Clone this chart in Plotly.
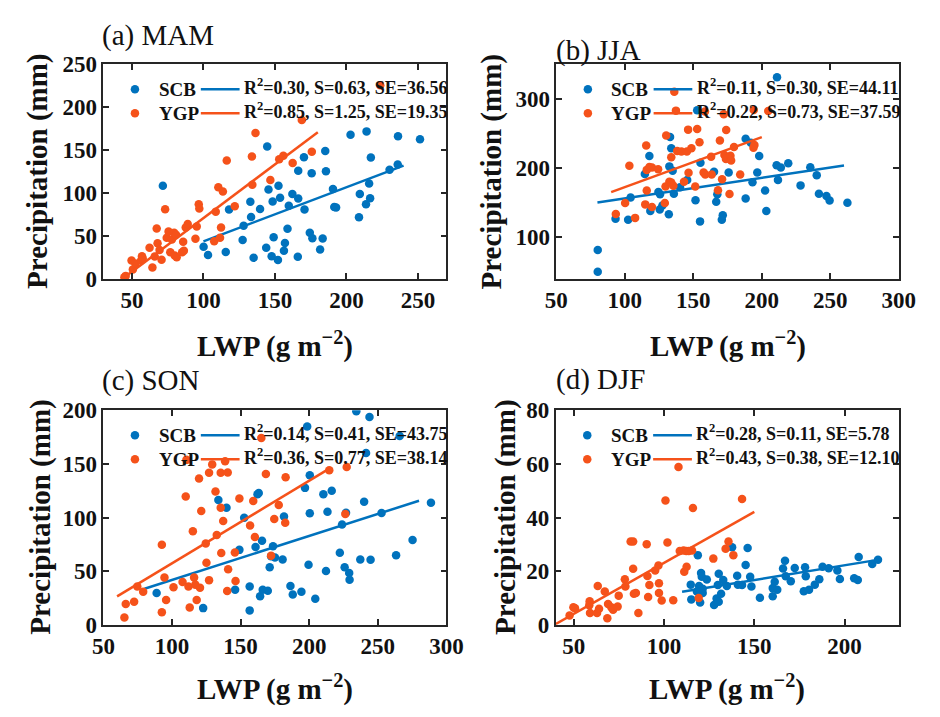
import plotly.graph_objects as go

BLUE = "#0072BD"
ORANGE = "#F5521A"
AXIS = "#262626"
SERIF = "Liberation Serif"

# ---------------- MAM ----------------
mam_scb_lwp = [71.6, 100.1, 103.2, 115.6, 117.9, 127.4, 128.1, 132.8, 133.3, 135.1, 139.6, 143.9, 144.6,
               145.5, 147.7, 148.4, 149.1, 152.1, 152.5, 153.6, 156.3, 157.0, 158.8, 159.7, 162.2, 166.0,
               166.3, 166.3, 170.3, 170.7, 174.4, 175.7, 176.2, 181.6, 183.4, 185.2, 185.7, 190.6, 191.5,
               192.8, 202.9, 208.8, 209.4, 213.7, 214.1, 215.9, 216.6, 217.1, 230.2, 235.9, 236.1, 251.5]
mam_scb_pr = [108.7, 37.5, 28.1, 31.5, 81.0, 45.4, 62.2, 90.0, 72.3, 24.7, 81.7, 36.4, 154.4,
              104.2, 26.6, 90.3, 48.7, 22.1, 108.7, 94.8, 33.0, 42.0, 58.5, 85.5, 99.0, 25.9,
              93.7, 126.0, 142.0, 81.0, 54.0, 123.3, 47.6, 34.5, 47.2, 149.2, 125.6, 105.0, 84.0,
              83.2, 168.0, 72.0, 99.0, 87.0, 172.0, 111.3, 94.0, 141.7, 127.4, 133.4, 166.4, 162.7]
mam_ygp_lwp = [44.7, 45.6, 49.7, 50.6, 52.4, 56.4, 57.0, 57.5, 62.3, 64.3, 65.9, 67.3, 67.9, 69.3, 70.7,
               73.2, 74.3, 75.6, 76.8, 77.9, 79.5, 79.9, 80.8, 81.3, 85.1, 85.8, 86.3, 87.6, 89.0, 94.4,
               95.3, 96.7, 97.1, 107.5, 108.6, 110.4, 111.6, 112.3, 113.6, 116.3, 121.9, 133.9, 134.2,
               136.4, 146.8, 153.0, 155.9, 162.4, 168.8, 175.8, 223.7]
mam_ygp_pr = [2.2, 3.7, 21.7, 11.2, 18.0, 21.7, 26.6, 24.0, 36.4, 13.5, 26.2, 58.8, 41.6, 33.7, 22.5,
              81.3, 48.0, 55.5, 31.1, 46.1, 54.0, 27.4, 51.7, 25.5, 31.1, 43.5, 33.0, 60.0, 64.1, 46.9,
              61.1, 87.0, 82.1, 43.9, 78.3, 106.8, 48.0, 60.0, 102.0, 138.0, 84.7, 142.8, 109.8,
              170.2, 115.4, 139.4, 143.6, 135.3, 185.2, 148.4, 225.6]

# ---------------- JJA ----------------
jja_scb_lwp = [80.2, 80.2, 93.2, 102.4, 104.2, 114.6, 117.9, 118.6, 124.5, 125.5, 125.7, 127.4, 132.1,
               132.5, 133.0, 133.9, 134.9, 135.8, 140.3, 145.5, 151.6, 152.8, 154.9, 155.2, 165.1, 166.7,
               167.5, 170.8, 171.5, 175.8, 188.2, 188.2, 192.0, 193.2, 196.7, 198.1, 202.4, 203.3, 210.8,
               211.1, 211.8, 213.9, 219.3, 228.3, 235.4, 240.1, 241.7, 247.2, 249.5, 262.5]
jja_scb_pr = [80.3, 48.8, 125.8, 124.4, 156.8, 191.1, 217.4, 137.1, 164.8, 139.4, 161.5, 145.1, 132.4,
              202.3, 245.0, 228.6, 195.8, 162.4, 171.8, 182.6, 153.0, 284.0, 122.1, 207.5, 194.4, 150.7,
              161.5, 124.4, 131.0, 193.4, 242.7, 155.4, 236.6, 179.3, 193.4, 217.4, 167.1, 137.1, 203.8,
              332.4, 182.6, 200.5, 207.0, 174.6, 200.9, 189.2, 162.4, 159.2, 152.6, 149.3]
jja_ygp_lwp = [93.4, 100.2, 103.3, 107.5, 114.9, 115.6, 116.0, 116.0, 117.9, 119.8, 119.8, 124.3, 129.2,
               129.7, 130.2, 132.5, 133.9, 133.9, 135.4, 136.1, 137.3, 138.2, 141.3, 143.2, 145.3, 146.2,
               146.5, 148.6, 151.4, 152.8, 154.5, 157.5, 158.5, 158.7, 163.0, 163.4, 168.0, 169.4, 171.0,
               172.2, 172.7, 173.8, 174.0, 176.4, 177.1, 177.6, 179.7, 184.2, 193.9, 194.1, 194.6, 204.7]
jja_ygp_pr = [132.9, 148.8, 203.3, 127.2, 146.9, 232.9, 197.2, 167.1, 201.4, 200.5, 143.2, 198.1, 148.8,
              172.8, 247.4, 179.8, 215.5, 178.9, 174.2, 311.3, 283.6, 224.9, 224.0, 179.8, 224.0, 255.9,
              193.0, 228.6, 172.8, 256.8, 237.6, 193.4, 282.2, 190.6, 216.4, 190.6, 167.6, 239.9, 183.6,
              278.4, 218.8, 213.1, 255.4, 162.0, 217.8, 210.8, 230.5, 190.6, 229.6, 284.5, 233.3, 283.1]

# ---------------- SON ----------------
son_scb_lwp = [88.8, 122.7, 133.8, 139.7, 146.0, 149.1, 152.6, 156.6, 156.6, 160.9, 162.3, 163.2, 164.2,
               165.6, 166.1, 169.8, 171.2, 172.2, 173.6, 175.0, 180.6, 181.6, 186.3, 188.0, 194.3, 196.9,
               198.5, 199.5, 200.4, 200.4, 204.4, 210.3, 212.2, 213.3, 216.4, 222.3, 223.9, 225.8, 226.8,
               229.1, 229.4, 234.3, 237.2, 240.0, 241.4, 243.9, 244.7, 252.7, 263.3, 265.9, 275.3, 288.7]
son_scb_pr = [29.7, 15.6, 116.3, 109.1, 32.7, 69.9, 99.8, 35.7, 13.5, 72.6, 121.7, 122.9, 26.7,
              78.3, 32.7, 31.8, 53.7, 63.9, 73.2, 62.7, 60.9, 101.0, 36.3, 28.2, 30.9, 127.7,
              185.0, 56.1, 104.0, 139.4, 24.3, 121.7, 50.1, 105.5, 125.0, 67.2, 93.6, 53.7, 104.6,
              48.3, 42.0, 199.1, 60.9, 114.8, 160.1, 193.7, 60.6, 104.3, 64.8, 176.0, 79.2, 113.9]
son_ygp_lwp = [65.3, 66.3, 72.4, 74.7, 79.0, 92.6, 92.6, 94.5, 95.7, 101.1, 107.7, 110.0, 110.5, 112.0,
               112.9, 115.2, 116.1, 117.0, 118.0, 119.7, 120.4, 121.3, 124.6, 125.1, 127.0, 127.0, 129.3,
               131.7, 132.6, 135.5, 135.5, 135.9, 137.3, 138.7, 140.2, 140.6, 140.9, 145.8, 146.3, 149.1,
               156.9, 159.2, 160.4, 165.1, 168.4, 172.2, 174.5, 177.8, 182.5, 182.8, 214.6, 226.3, 227.3]
son_ygp_pr = [6.9, 19.5, 21.6, 35.7, 30.9, 74.7, 11.7, 44.1, 23.1, 35.1, 39.9, 119.6, 153.8, 35.7,
              16.2, 87.3, 44.1, 37.5, 23.1, 136.4, 34.5, 106.1, 75.9, 57.9, 141.8, 41.7, 149.6,
              124.4, 83.7, 141.8, 109.1, 66.9, 96.9, 152.6, 31.5, 142.1, 51.9, 67.5, 40.8, 117.8,
              92.7, 115.4, 81.9, 174.2, 140.6, 64.5, 98.7, 111.8, 95.1, 137.6, 144.2, 103.4, 147.2]

# ---------------- DJF ----------------
djf_scb_lwp = [114.8, 115.1, 118.2, 118.7, 119.4, 120.0, 120.5, 120.9, 121.4, 121.4, 123.7, 127.7, 129.1,
               129.8, 130.3, 130.3, 131.6, 132.8, 134.8, 137.7, 140.5, 140.9, 143.2, 145.2, 146.3, 147.7,
               148.4, 153.1, 160.2, 160.2, 161.3, 162.7, 165.9, 167.0, 167.4, 170.2, 172.4, 177.4, 178.1,
               178.5, 180.3, 183.5, 186.0, 187.8, 191.2, 196.0, 197.4, 205.3, 207.3, 207.8, 215.3, 218.5]
djf_scb_pr = [15.0, 9.5, 12.4, 26.0, 14.5, 8.3, 19.3, 17.9, 11.9, 13.5, 16.9, 7.4, 9.8,
              14.9, 19.1, 8.6, 11.6, 16.7, 14.5, 28.9, 18.3, 15.0, 14.9, 22.3, 28.7, 17.9,
              14.3, 10.1, 10.7, 13.7, 16.1, 13.1, 21.0, 23.9, 18.1, 16.3, 21.2, 12.5, 21.5,
              18.1, 13.1, 15.0, 17.0, 21.7, 21.1, 20.3, 17.1, 17.4, 16.7, 25.3, 22.7, 24.3]
djf_ygp_lwp = [47.7, 49.8, 50.7, 58.6, 58.8, 59.0, 62.9, 63.3, 64.0, 67.2, 68.6, 69.0, 70.8, 71.8, 74.3,
               74.9, 78.3, 78.6, 81.5, 82.9, 82.9, 83.3, 84.4, 85.8, 90.4, 90.8, 91.2, 91.9, 95.1, 96.9,
               97.2, 97.2, 98.7, 100.8, 101.9, 105.1, 108.0, 108.7, 110.8, 111.2, 112.3, 112.5, 113.7,
               115.5, 116.0, 119.2, 127.3, 134.1, 135.7, 138.4, 143.2]
djf_ygp_pr = [3.5, 6.6, 6.2, 7.3, 8.8, 4.4, 4.4, 14.5, 6.0, 12.4, 2.5, 7.8, 6.6, 5.6, 6.8,
              10.9, 17.0, 14.3, 31.1, 31.1, 20.9, 11.6, 11.9, 4.4, 30.1, 18.2, 10.4, 14.9, 20.3, 22.1,
              11.9, 15.5, 9.1, 46.4, 30.7, 9.2, 58.9, 27.5, 27.7, 19.8, 27.5, 21.7, 27.5,
              27.7, 43.6, 10.0, 24.7, 28.4, 31.1, 26.0, 46.9]

# Regression statistics per season: [SCB, YGP]
seasons = ["(a) MAM", "(b) JJA", "(c) SON", "(d) DJF"]
r2 = [[0.30, 0.85], [0.11, 0.22], [0.14, 0.36], [0.28, 0.43]]
slope = [[0.63, 1.25], [0.30, 0.73], [0.41, 0.77], [0.11, 0.38]]
se = [[36.56, 19.35], [44.11, 37.59], [43.75, 38.14], [5.78, 12.10]]
intercept = [[-19.1, -54.0], [125.7, 99.0], [0.9, -19.6], [0.22, -14.9]]
fit_span = [[(100, 240), (45, 180)], [(80, 260), (90, 200)],
            [(80, 280), (60, 214)], [(110, 220), (40, 150)]]

points = [
    [(mam_scb_lwp, mam_scb_pr), (mam_ygp_lwp, mam_ygp_pr)],
    [(jja_scb_lwp, jja_scb_pr), (jja_ygp_lwp, jja_ygp_pr)],
    [(son_scb_lwp, son_scb_pr), (son_ygp_lwp, son_ygp_pr)],
    [(djf_scb_lwp, djf_scb_pr), (djf_ygp_lwp, djf_ygp_pr)],
]
regions = ["SCB", "YGP"]
colors = [BLUE, ORANGE]

x_ranges = [[30, 270], [50, 300], [50, 300], [40, 230]]
y_ranges = [[0, 250], [38, 351], [0, 200], [0, 80]]
x_ticks = [[50, 100, 150, 200, 250], [50, 100, 150, 200, 250, 300],
           [50, 100, 150, 200, 250, 300], [50, 100, 150, 200]]
y_ticks = [[0, 50, 100, 150, 200, 250], [100, 200, 300],
           [0, 50, 100, 150, 200], [0, 20, 40, 60, 80]]

W, H = 940, 717
# panel boxes in pixels: left, right, top, bottom
boxes = [(94.3, 448.3, 54.3, 276.7), (561.7, 915.0, 54.3, 276.7),
         (94.3, 448.3, 412.7, 635.0), (561.0, 915.0, 412.7, 635.0)]
title_pos = [(91, 24), (559, 40), (91, 382), (559, 381)]
ytitle_x = [27, 495, 29, 509]
xtitle_y = [345, 345, 700, 700]

fig = go.Figure()
annotations = []
shapes = []

for i in range(4):
    n = "" if i == 0 else str(i + 1)
    xa, ya = "x" + n, "y" + n
    left, right, top, bottom = boxes[i]

    for k in range(2):
        lwp, pr = points[i][k]
        fig.add_trace(go.Scatter(
            x=lwp, y=pr, mode="markers", xaxis=xa, yaxis=ya,
            marker=dict(size=8.5, color=colors[k], line=dict(width=0)),
            showlegend=False, hoverinfo="x+y", name=regions[k]))
        x0, x1 = fit_span[i][k]
        fx = [x0, x1]
        fy = [slope[i][k] * v + intercept[i][k] for v in fx]
        fig.add_trace(go.Scatter(
            x=fx, y=fy, mode="lines", xaxis=xa, yaxis=ya,
            line=dict(color=colors[k], width=2.5),
            showlegend=False, hoverinfo="skip"))

    axis_common = dict(showline=True, linecolor=AXIS, linewidth=1.5, mirror="ticks",
                       ticks="inside", ticklen=6, tickwidth=1.5, tickcolor=AXIS,
                       showgrid=False, zeroline=False,
                       tickfont=dict(family=SERIF, size=23, color="#111111", weight="bold"))
    fig.update_layout(**{
        ("xaxis" + n): dict(domain=[left / W, right / W], range=x_ranges[i],
                            tickvals=x_ticks[i], anchor=ya, **axis_common),
        ("yaxis" + n): dict(domain=[1 - bottom / H, 1 - top / H], range=y_ranges[i],
                            tickvals=y_ticks[i], anchor=xa, **axis_common),
    })

    # legend rows inside the panel
    for k, yrow in enumerate([0.884, 0.772]):
        shapes.append(dict(type="circle", xref=xa + " domain", yref=ya + " domain",
                           xsizemode="pixel", ysizemode="pixel",
                           xanchor=0.092, yanchor=yrow, x0=-4.25, x1=4.25, y0=-4.25, y1=4.25,
                           fillcolor=colors[k], line=dict(width=0)))
        shapes.append(dict(type="line", xref=xa + " domain", yref=ya + " domain",
                           x0=0.284, x1=0.397, y0=yrow, y1=yrow,
                           line=dict(color=colors[k], width=2.5)))
        annotations.append(dict(xref=xa + " domain", yref=ya + " domain", x=0.155, y=yrow,
                                xanchor="left", yanchor="middle", showarrow=False,
                                text=regions[k],
                                font=dict(family=SERIF, size=19, color="#111111", weight="bold")))
        label = "R<sup>2</sup>=%.2f, S=%.2f, SE=%.2f" % (r2[i][k], slope[i][k], se[i][k])
        annotations.append(dict(xref=xa + " domain", yref=ya + " domain", x=0.404, y=yrow + 0.012,
                                xanchor="left", yanchor="middle", showarrow=False,
                                text=label,
                                font=dict(family=SERIF, size=18, color="#111111", weight="bold")))

    # panel title
    tx, ty = title_pos[i]
    annotations.append(dict(xref="paper", yref="paper", x=tx / W, y=1 - ty / H,
                            xanchor="left", yanchor="middle", showarrow=False,
                            text=seasons[i],
                            font=dict(family=SERIF, size=29, color="#111111")))
    # axis titles
    annotations.append(dict(xref="paper", yref="paper", x=ytitle_x[i] / W,
                            y=1 - (top + bottom) / 2 / H, xanchor="center", yanchor="middle",
                            textangle=-90, showarrow=False, text="Precipitation (mm)",
                            font=dict(family=SERIF, size=29, color="#111111", weight="bold")))
    annotations.append(dict(xref="paper", yref="paper", x=(left + right) / 2 / W,
                            y=1 - xtitle_y[i] / H, xanchor="center", yanchor="middle",
                            showarrow=False, text="LWP (g m<sup>\u22122</sup>)",
                            font=dict(family=SERIF, size=29, color="#111111", weight="bold")))

fig.update_layout(width=W, height=H, margin=dict(l=0, r=0, t=0, b=0),
                  paper_bgcolor="white", plot_bgcolor="white",
                  annotations=annotations, shapes=shapes, showlegend=False)

fig.write_html("out.html")
